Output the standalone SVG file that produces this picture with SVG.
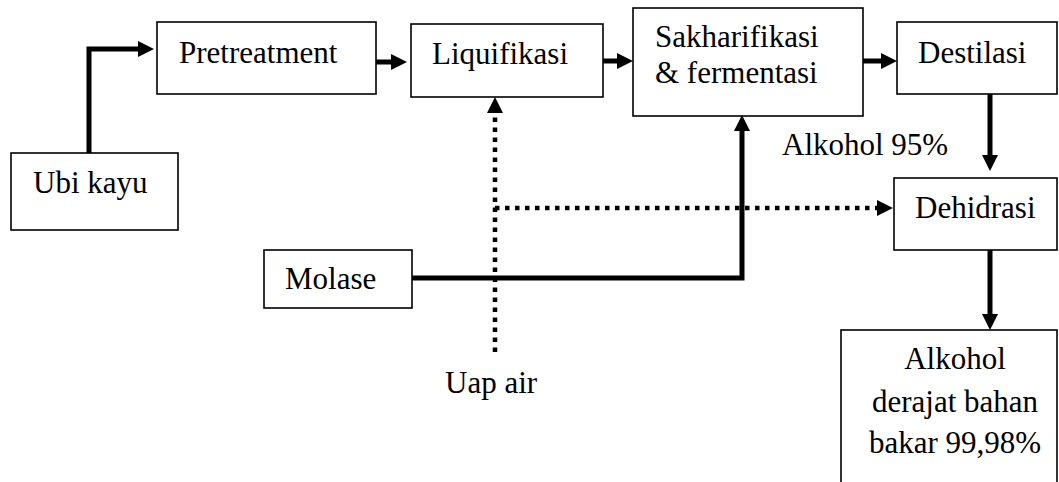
<svg xmlns="http://www.w3.org/2000/svg" width="1059" height="482" viewBox="0 0 1059 482">
<style>
.box{fill:#fff;stroke:#000;stroke-width:1.6}
.t{font-family:"Liberation Serif","Times New Roman",serif;font-size:31px;fill:#000}
.c{fill:none;stroke:#000;stroke-width:5}
.d{fill:none;stroke:#000;stroke-width:4.5;stroke-dasharray:4.5 5.5}
</style>
<defs>
<marker id="ah" markerUnits="userSpaceOnUse" markerWidth="16" markerHeight="16" refX="0" refY="8" orient="auto" viewBox="0 0 16 16" overflow="visible">
<path d="M0,0 L16,8 L0,16 Z" fill="#000"/>
</marker>
</defs>
<rect width="1059" height="482" fill="#fff"/>
<g id="connectors">
<path class="c" d="M89,153 V49 H138" marker-end="url(#ah)"/>
<path class="c" d="M376,62 H391" marker-end="url(#ah)"/>
<path class="c" d="M603,61 H617" marker-end="url(#ah)"/>
<path class="c" d="M863,61 H881" marker-end="url(#ah)"/>
<path class="c" d="M990,94 V155" marker-end="url(#ah)"/>
<path class="c" d="M990,250 V314" marker-end="url(#ah)"/>
<path class="c" d="M412,278 H742 V131" marker-end="url(#ah)"/>
<path class="d" d="M495,352 V113" marker-end="url(#ah)"/>
<path class="d" d="M495,208 H877" marker-end="url(#ah)"/>
</g>
<g id="ubi-kayu"><rect class="box" x="11" y="153" width="167" height="77"/><text class="t" x="33" y="193">Ubi kayu</text></g>
<g id="pretreatment"><rect class="box" x="157" y="22" width="219" height="72"/><text class="t" x="179" y="63">Pretreatment</text></g>
<g id="liquifikasi"><rect class="box" x="411" y="24" width="192" height="73"/><text class="t" x="432" y="64">Liquifikasi</text></g>
<g id="sakharifikasi"><rect class="box" x="633" y="8" width="230" height="108"/><text class="t" x="655" y="47">Sakharifikasi</text><text class="t" x="655" y="83">&amp; fermentasi</text></g>
<g id="destilasi"><rect class="box" x="897" y="22" width="160" height="72"/><text class="t" x="918" y="63">Destilasi</text></g>
<g id="dehidrasi"><rect class="box" x="894" y="178" width="163" height="72"/><text class="t" x="915" y="218">Dehidrasi</text></g>
<g id="molase"><rect class="box" x="264" y="250" width="148" height="58"/><text class="t" x="285" y="289">Molase</text></g>
<g id="alkohol-akhir"><rect class="box" x="841" y="330" width="216" height="170"/><text class="t" x="955" y="369" text-anchor="middle">Alkohol</text><text class="t" x="955" y="412" text-anchor="middle">derajat bahan</text><text class="t" x="955" y="453" text-anchor="middle">bakar 99,98%</text></g>
<g id="labels"><text class="t" x="782" y="155">Alkohol 95%</text><text class="t" x="445" y="393">Uap air</text></g>
</svg>
